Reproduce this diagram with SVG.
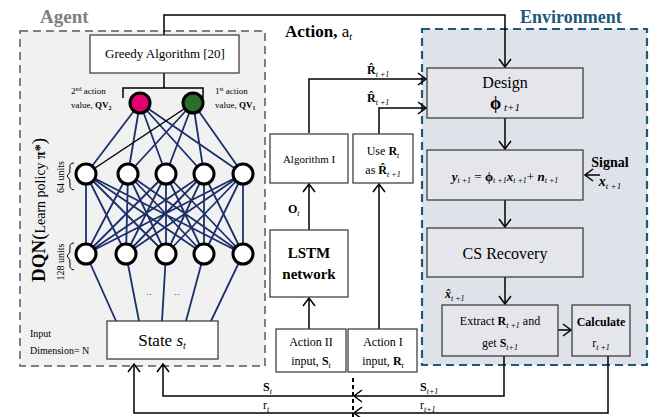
<svg xmlns="http://www.w3.org/2000/svg" width="661" height="417" viewBox="0 0 661 417">
<defs>
<marker id="arr" viewBox="-10 -7 12 14" refX="0" refY="0" markerWidth="12" markerHeight="14" markerUnits="userSpaceOnUse" orient="auto">
<path d="M-8,-6 L0,0 L-8,6" fill="none" stroke="#000" stroke-width="1.5"/>
</marker>
<style>
text{font-family:"Liberation Serif","DejaVu Serif",serif;fill:#000}
.box{fill:#fff;stroke:#333;stroke-width:1.2}
.ebox{fill:#e4e6ec;stroke:#333;stroke-width:1.2}
.nav{stroke:#1b2f6b;stroke-width:1.8;fill:none}
.ln{stroke:#000;stroke-width:1.5;fill:none}
.arw{stroke:#000;stroke-width:1.5;fill:none;marker-end:url(#arr)}
.neu{fill:#fff;stroke:#000;stroke-width:3}
.sm{font-size:9px}
.it{font-style:italic}
.b{font-weight:bold}
</style>
</defs>
<rect width="661" height="417" fill="#fff"/>

<g id="agent">
<rect x="20" y="31" width="245" height="335" fill="#f1f1f1" stroke="#808080" stroke-width="2" stroke-dasharray="8,5"/>
<text x="40" y="23" font-size="19" font-weight="bold" style="fill:#808080">Agent</text>
</g>
<g id="environment">
<rect x="422" y="29" width="225" height="336" fill="#dfe2e9" stroke="#1c5a78" stroke-width="2.2" stroke-dasharray="8,5"/>
<text x="520" y="23" font-size="18" font-weight="bold" style="fill:#1c5a78">Environment</text>
</g>

<g id="labels">
<text x="285" y="37" font-size="17" class="b">Action, <tspan font-weight="normal">a</tspan><tspan font-weight="normal" class="it" font-size="10" dy="3">t</tspan></text>
<g transform="translate(45,210) rotate(-90)"><text text-anchor="middle" font-size="14"><tspan font-size="19" font-weight="bold">DQN</tspan><tspan font-size="19">(</tspan>Learn policy <tspan font-weight="bold">π*</tspan><tspan font-size="19">)</tspan></text></g>
<g transform="translate(64,177) rotate(-90)"><text text-anchor="middle" font-size="10">64 units</text></g>
<g transform="translate(64,262) rotate(-90)"><text text-anchor="middle" font-size="10">128 units</text></g>
<path d="M74,163 q-5,0 -4,5 q1,5 -3,8 q4,3 3,8 q-1,5 4,6" fill="none" stroke="#000" stroke-width="1"/>
<path d="M74,243 q-5,0 -4,5 q1,5 -3,8 q4,3 3,8 q-1,5 4,6" fill="none" stroke="#000" stroke-width="1"/>
<text x="71" y="94" class="sm">2<tspan font-size="6" dy="-3">nd</tspan><tspan dy="3"> action</tspan></text>
<text x="71" y="108" class="sm">value, <tspan class="b">QV</tspan><tspan font-size="6" dy="2" class="b">2</tspan></text>
<text x="215" y="94" class="sm">1<tspan font-size="6" dy="-3">st</tspan><tspan dy="3"> action</tspan></text>
<text x="215" y="108" class="sm">value, <tspan class="b">QV</tspan><tspan font-size="6" dy="2" class="b">1</tspan></text>
<text x="30" y="337" font-size="10">Input</text>
<text x="30" y="354" font-size="10">Dimension= N</text>
<text x="146" y="297" font-size="9">··</text>
<text x="174" y="297" font-size="9">··</text>
<text x="367" y="74" font-size="12" class="b">R̂<tspan font-size="8" class="it" font-weight="normal" dy="3">t +1</tspan></text>
<text x="367" y="102" font-size="12" class="b">R̂<tspan font-size="8" class="it" font-weight="normal" dy="3">t +1</tspan></text>
<text x="288" y="213" font-size="12" class="b">O<tspan font-size="8" class="it" font-weight="normal" dy="3">t</tspan></text>
<text x="445" y="298" font-size="12" class="b it">x̂<tspan font-size="8" font-weight="normal" dy="3">t +1</tspan></text>
<text x="610" y="167" font-size="14" text-anchor="middle" class="b">Signal</text>
<text x="610" y="186" font-size="14" text-anchor="middle" class="b it">x<tspan font-size="9" font-weight="normal" dy="3">t +1</tspan></text>
<text x="263" y="391" font-size="12" class="b">S<tspan font-size="8" class="it" font-weight="normal" dy="3">t</tspan></text>
<text x="263" y="409" font-size="12">r<tspan font-size="8" class="it" dy="3">t</tspan></text>
<text x="420" y="391" font-size="12" class="b">S<tspan font-size="8" class="it" font-weight="normal" dy="3">t+1</tspan></text>
<text x="420" y="409" font-size="12">r<tspan font-size="8" class="it" dy="3">t+1</tspan></text>
</g>

<g id="connectors">
<path class="nav" d="M140,103 L86,174 M140,103 L128,174 M140,103 L166,174 M140,103 L204,174 M140,103 L243,174 M193,103 L128,174 M193,103 L166,174 M193,103 L204,174 M193,103 L243,174"/>
<path class="ln" d="M193,103 L86,174" stroke-width="1.8"/>
<path class="nav" d="M86,174 L86,254 M86,174 L126,254 M86,174 L166,254 M86,174 L204,254 M86,174 L243,254 M128,174 L86,254 M128,174 L126,254 M128,174 L166,254 M128,174 L204,254 M128,174 L243,254 M166,174 L86,254 M166,174 L126,254 M166,174 L166,254 M166,174 L204,254 M166,174 L243,254 M204,174 L86,254 M204,174 L126,254 M204,174 L166,254 M204,174 L204,254 M204,174 L243,254 M243,174 L86,254 M243,174 L126,254 M243,174 L166,254 M243,174 L204,254 M243,174 L243,254"/>
<path class="nav" d="M86,254 L116,321 M126,254 L139,321 M166,254 L162,321 M204,254 L186,321 M243,254 L211,321"/>
<path class="ln" d="M164,73 V88 M123,98 V88 H203 V98"/>
<path class="arw" d="M164,35 V15 H505 V67"/>
<path class="arw" d="M309,133 V79 H426"/>
<path class="arw" d="M379,135 V108 H426"/>
<path class="arw" d="M309,230 V184"/>
<path class="arw" d="M309,329 V298"/>
<path class="arw" d="M379,329 V184"/>
<path class="arw" d="M505,118 V149"/>
<path class="arw" d="M505,200 V227"/>
<path class="arw" d="M505,277 V304"/>
<path class="arw" d="M558,330 H571"/>
<path class="arw" d="M600,175 H585"/>
<path class="arw" d="M353,396 H163 V364"/>
<path class="arw" d="M353,413 H134 V364"/>
<path class="arw" d="M504,356 V396 H354"/>
<path class="arw" d="M608,356 V413 H354"/>
<path d="M353,378 V417" stroke="#000" stroke-width="2" stroke-dasharray="4,3" fill="none"/>
</g>

<g id="greedy"><rect class="box" x="90" y="35" width="149" height="38"/><text x="165" y="58" font-size="13" text-anchor="middle">Greedy Algorithm [20]</text></g>
<g id="qv2"><circle cx="140" cy="103" r="10" fill="#e0006f" stroke="#000" stroke-width="3"/></g>
<g id="qv1"><circle cx="193" cy="103" r="10" fill="#2a6e2a" stroke="#000" stroke-width="3"/></g>
<g id="h1">
<circle class="neu" cx="86" cy="174" r="10"/><circle class="neu" cx="128" cy="174" r="10"/><circle class="neu" cx="166" cy="174" r="10"/><circle class="neu" cx="204" cy="174" r="10"/><circle class="neu" cx="243" cy="174" r="10"/>
</g>
<g id="h2">
<circle class="neu" cx="86" cy="254" r="10"/><circle class="neu" cx="126" cy="254" r="10"/><circle class="neu" cx="166" cy="254" r="10"/><circle class="neu" cx="204" cy="254" r="10"/><circle class="neu" cx="243" cy="254" r="10"/>
</g>
<g id="state"><rect class="box" x="107" y="321" width="111" height="38"/><text x="162" y="346" font-size="17" text-anchor="middle">State <tspan class="it">s</tspan><tspan class="it" font-size="10" dy="3">t</tspan></text></g>

<g id="algorithm1"><rect class="box" x="270" y="134" width="78" height="49"/><text x="309" y="163" font-size="11" text-anchor="middle">Algorithm I</text></g>
<g id="useR"><rect class="box" x="353" y="134" width="60" height="49"/>
<text x="383" y="155" font-size="12" text-anchor="middle">Use <tspan class="b">R</tspan><tspan font-size="8" class="it" dy="3">t</tspan></text>
<text x="383" y="174" font-size="12" text-anchor="middle">as <tspan class="b">R̂</tspan><tspan font-size="8" class="it" dy="3">t +1</tspan></text></g>
<g id="lstm"><rect class="box" x="270" y="230" width="78" height="67"/>
<text x="309" y="258" font-size="15" text-anchor="middle" class="b">LSTM</text>
<text x="309" y="279" font-size="15" text-anchor="middle" class="b">network</text></g>
<g id="action2"><rect class="box" x="276" y="329" width="70" height="43"/>
<text x="311" y="346" font-size="12" text-anchor="middle">Action II</text>
<text x="311" y="365" font-size="12" text-anchor="middle">input, <tspan class="b">S</tspan><tspan font-size="8" class="it" dy="3">t</tspan></text></g>
<g id="action1"><rect class="box" x="348" y="329" width="69" height="43"/>
<text x="383" y="346" font-size="12" text-anchor="middle">Action I</text>
<text x="383" y="365" font-size="12" text-anchor="middle">input, <tspan class="b">R</tspan><tspan font-size="8" class="it" dy="3">t</tspan></text></g>

<g id="design"><rect class="ebox" x="427" y="68" width="156" height="50"/>
<text x="505" y="88" font-size="16" text-anchor="middle">Design</text>
<text x="505" y="109" font-size="18" text-anchor="middle" class="b">ϕ<tspan font-size="11" class="it" font-weight="normal" dy="2"> t+1</tspan></text></g>
<g id="measure"><rect class="ebox" x="427" y="150" width="156" height="50"/>
<text x="505" y="181" font-size="13" text-anchor="middle"><tspan class="it b">y</tspan><tspan font-size="8" class="it" dy="2">t +1</tspan><tspan dy="-2"> =  </tspan><tspan class="b">ϕ</tspan><tspan font-size="8" class="it" dy="2">t +1</tspan><tspan dy="-2" class="it b">x</tspan><tspan font-size="8" class="it" dy="2">t +1</tspan><tspan dy="-2">+ </tspan><tspan class="it b">n</tspan><tspan font-size="8" class="it" dy="2">t +1</tspan></text></g>
<g id="cs"><rect class="ebox" x="427" y="228" width="156" height="49"/>
<text x="505" y="259" font-size="16" text-anchor="middle">CS Recovery</text></g>
<g id="extract"><rect class="ebox" x="442" y="305" width="116" height="51"/>
<text x="500" y="325" font-size="12" text-anchor="middle">Extract  <tspan class="b">R</tspan><tspan font-size="8" class="it" dy="3">t +1</tspan><tspan dy="-3">  and</tspan></text>
<text x="500" y="347" font-size="12" text-anchor="middle">get <tspan class="b">S</tspan><tspan font-size="8" class="it" dy="3">t+1</tspan></text></g>
<g id="calculate"><rect class="ebox" x="572" y="305" width="58" height="51"/>
<text x="601" y="326" font-size="12" text-anchor="middle" class="b">Calculate</text>
<text x="601" y="347" font-size="12" text-anchor="middle">r<tspan font-size="8" class="it" dy="3">t +1</tspan></text></g>
</svg>
